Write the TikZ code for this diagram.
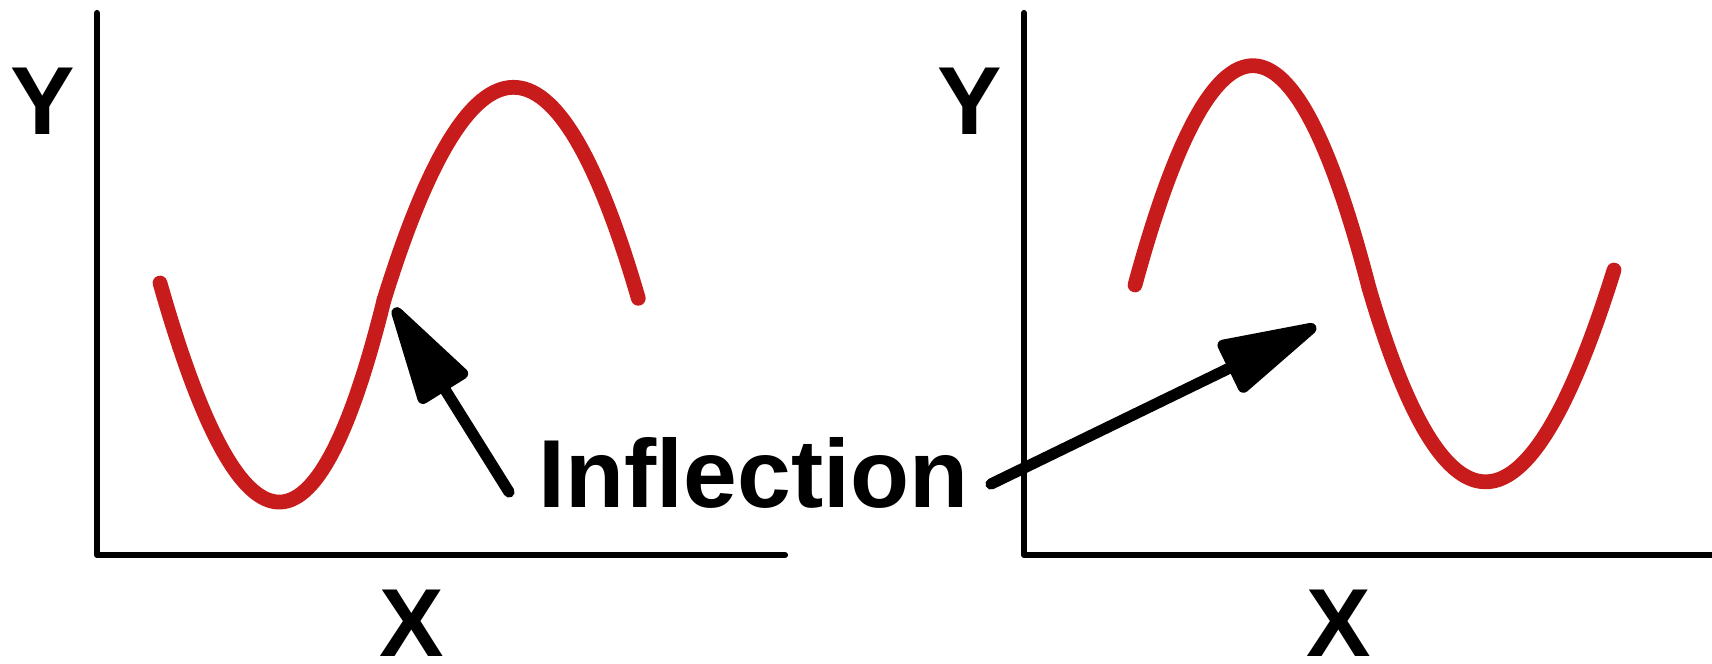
\documentclass[tikz,border=0pt]{standalone}
\usepackage{fontspec}
\setmainfont{Liberation Sans}
\usetikzlibrary{arrows.meta}
\definecolor{curvered}{RGB}{200,28,28}

\begin{document}
\begin{tikzpicture}[line cap=round, line join=round,
		>={Triangle[length=1.15cm, width=0.58cm, round]},
		font=\fontsize{27.5}{33}\selectfont\bfseries,
		curve/.style={curvered, line width=4.2pt},
		axis/.style={line width=1.75pt},
		pointer/.style={->, line width=3.2pt}]
	% Canvas with the proportions of the reference
	\useasboundingbox (0,0) rectangle (17.12,6.63);
	\def\ybot{1.08} \def\ytop{6.50}
	
	% Left panel: axes
	\draw[axis] (0.97,\ytop) -- (0.97,\ybot) -- (7.85,\ybot);
	
	% Left curve: two parabolic arcs, minimum then maximum
	\draw[curve] (1.60,3.80) .. controls (2.413,0.937) and (3.16,0.88) .. (3.84,3.63);
	\draw[curve] (3.84,3.63) .. controls (4.716,6.46) and (5.564,6.466) .. (6.383,3.647);
	
	% Right panel: axes
	\draw[axis] (10.24,\ytop) -- (10.24,\ybot) -- (17.20,\ybot);
	
	% Right curve: two parabolic arcs, maximum then minimum
	\draw[curve] (11.35,3.78) .. controls (12.147,6.714) and (12.927,6.704) .. (13.69,3.75);
	\draw[curve] (13.69,3.75) .. controls (14.464,1.107) and (15.281,1.167) .. (16.14,3.93);
	
	% Axis labels
	\node[inner sep=0pt] (yleft) at (0.43,5.62) {Y};
	\node[inner sep=0pt] (xleft) at (4.12,0.40) {X};
	\node[inner sep=0pt] (yright) at (9.70,5.62) {Y};
	\node[inner sep=0pt] (xright) at (13.39,0.40) {X};
	
	% Label and arrows to the inflection points
	\node (infl) at (7.535,1.90) {Inflection};
	\coordinate (tailL) at (5.09,1.71);
	\coordinate (tipL) at (3.94,3.55);
	\coordinate (tailR) at (9.91,1.79);
	\coordinate (tipR) at (13.16,3.37);
	\draw[pointer] (tailL) -- (tipL);
	\draw[pointer] (tailR) -- (tipR);
\end{tikzpicture}
\end{document}
